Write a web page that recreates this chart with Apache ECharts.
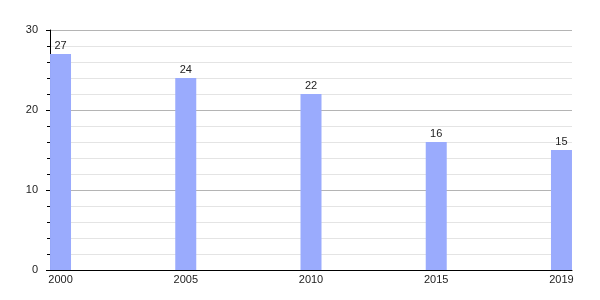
<!DOCTYPE html>
<html>
<head>
<meta charset="utf-8">
<script src="https://cdn.jsdelivr.net/npm/echarts@6/dist/echarts.min.js"></script>
<style>html,body{margin:0;padding:0;background:#fff}#c{width:600px;height:300px}</style>
</head>
<body>
<div id="c"></div>
<script>
var years = ['2000', '2005', '2010', '2015', '2019'];
var values = [27, 24, 22, 16, 15];
var yTicks = [0, 10, 20, 30];

var chart = echarts.init(document.getElementById('c'), null, {renderer: 'canvas'});
var data = values.map(function (v, i) { return [i, v]; });
chart.setOption({
  animation: false,
  textStyle: {fontFamily: 'Liberation Sans, Arial, sans-serif'},
  grid: {left: 50, right: 28, top: 30, bottom: 30, containLabel: false},
  xAxis: {
    type: 'value',
    min: -0.084,
    max: 4.084,
    axisLine: {show: true, onZero: false, lineStyle: {color: '#000', width: 1}},
    axisTick: {show: false},
    splitLine: {show: false},
    axisLabel: {
      customValues: [0, 1, 2, 3, 4],
      formatter: function (v) { return years[Math.round(v)]; },
      color: '#222', fontSize: 11, margin: 4,
      fontFamily: 'Liberation Sans, Arial, sans-serif'
    }
  },
  yAxis: {
    type: 'value',
    min: yTicks[0],
    max: yTicks[yTicks.length - 1],
    interval: 10,
    axisLine: {show: true, onZero: false, lineStyle: {color: '#000', width: 1}},
    axisTick: {show: true, length: 4, lineStyle: {color: '#000'}},
    minorTick: {show: true, splitNumber: 5, length: 3, lineStyle: {color: '#000'}},
    splitLine: {show: true, lineStyle: {color: '#b4b4b4', width: 1}},
    minorSplitLine: {show: true, lineStyle: {color: '#e4e4e4', width: 1}},
    axisLabel: {color: '#222', fontSize: 11, margin: 12,
      fontFamily: 'Liberation Sans, Arial, sans-serif'}
  },
  series: [{
    type: 'bar',
    data: data,
    barWidth: 21,
    z: 1,
    itemStyle: {color: '#9aabfd'},
    label: {show: true, position: 'top', distance: 3, color: '#222', fontSize: 11,
      fontFamily: 'Liberation Sans, Arial, sans-serif',
      formatter: function (p) { return p.value[1]; }}
  }]
});
</script>
</body>
</html>
